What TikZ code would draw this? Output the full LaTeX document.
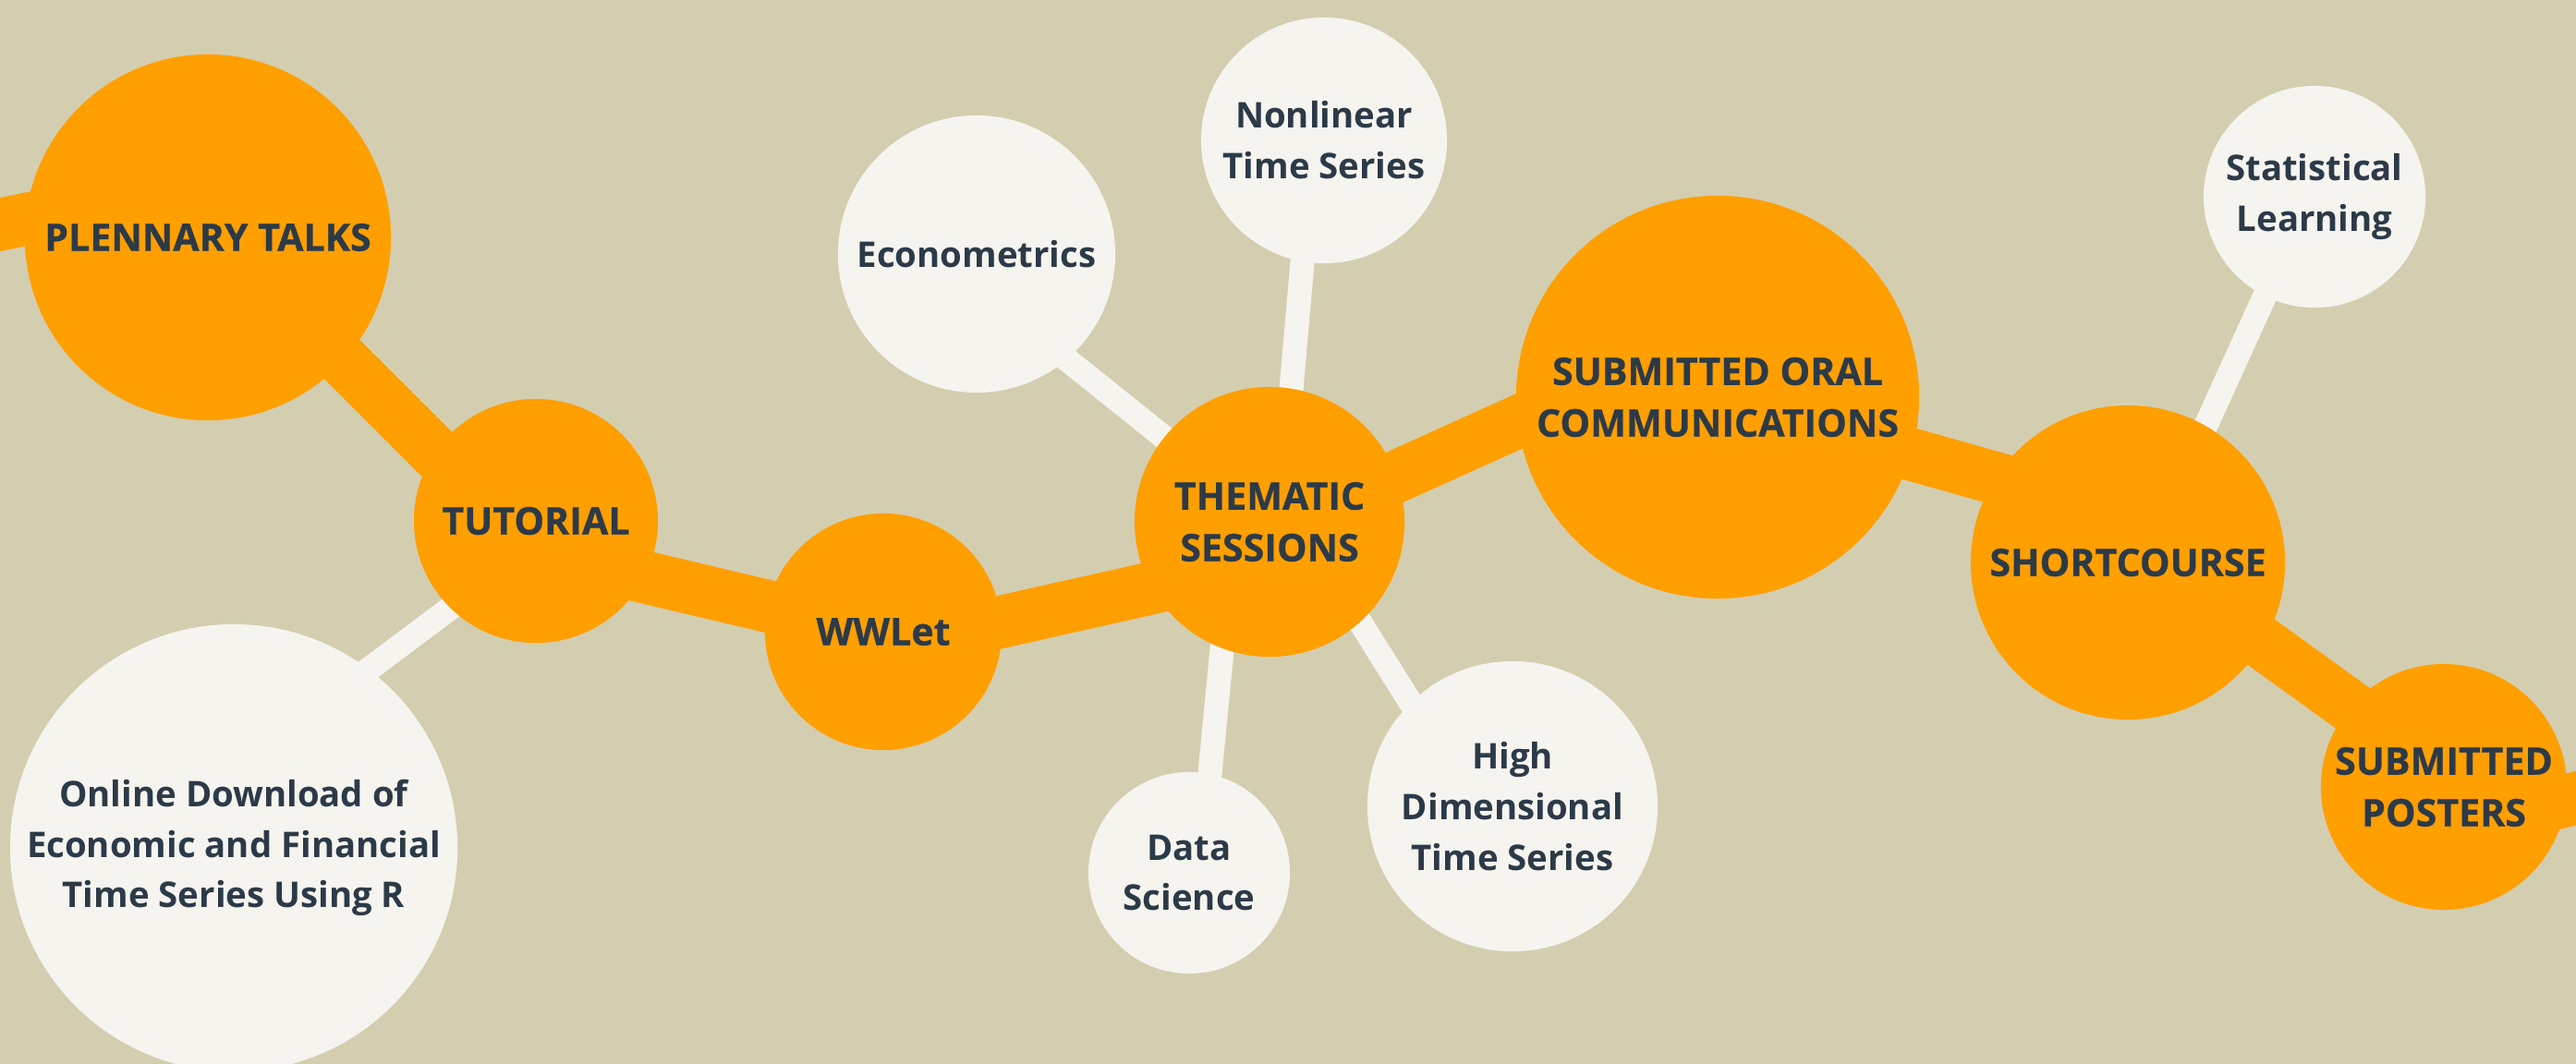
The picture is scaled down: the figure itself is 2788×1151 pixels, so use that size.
\documentclass[tikz,border=0pt]{standalone}
\usepackage{fontspec}
\setmainfont{Open Sans}
\newfontfamily\xbold{Open Sans}[BoldFeatures={FakeBold=0.6}]
\usetikzlibrary{calc}
\definecolor{bgc}{HTML}{D4CEB0}
\definecolor{orc}{HTML}{FF9F00}
\definecolor{whc}{HTML}{F5F4EF}
\definecolor{txc}{HTML}{2C3A48}
\pgfdeclarelayer{bg}
\pgfsetlayers{bg,main}
\tikzset{
  mainnode/.style={circle, fill=orc, inner sep=0pt, align=center, text=txc,
    font=\xbold\bfseries\fontsize{11.7}{15.9}\selectfont},
  subnode/.style={circle, fill=whc, inner sep=0pt, align=center, text=txc,
    font=\bfseries\fontsize{10.9}{15.6}\selectfont},
  mainlink/.style={draw=orc, line width=16.2pt},
  sublink/.style={draw=whc, line width=7.4pt},
}
\begin{document}
\begin{tikzpicture}[x=0.01cm, y=-0.01cm]
\useasboundingbox (0,0) rectangle (2788,1151);
% main nodes
\node[mainnode, minimum size=3.96cm] (P) at (225,257) {PLENNARY TALKS};
\node[mainnode, minimum size=2.64cm] (T) at (580,564) {TUTORIAL};
\node[mainnode, minimum size=2.56cm] (W) at (956,684) {WWLet};
\node[mainnode, minimum size=2.92cm] (TS) at (1374,565) {THEMATIC\\SESSIONS};
\node[mainnode, minimum size=4.36cm] (OR) at (1859,430) {SUBMITTED ORAL\\COMMUNICATIONS};
\node[mainnode, minimum size=3.40cm] (SC) at (2303,609) {SHORTCOURSE};
\node[mainnode, minimum size=2.66cm] (SP) at (2645,852) {SUBMITTED\\POSTERS};
% sub nodes
\node[subnode, minimum size=4.84cm] (OD) at (253,918) {Online Download of\\Economic and Financial\\Time Series Using R};
\node[subnode, minimum size=3.00cm] (EC) at (1057,275) {Econometrics};
\node[subnode, minimum size=2.66cm] (NL) at (1433,152) {Nonlinear\\Time Series};
\node[subnode, minimum size=2.18cm] (DS) at (1287,945) {Data\\Science};
\node[subnode, minimum size=3.14cm] (HD) at (1637,873) {High\\Dimensional\\Time Series};
\node[subnode, minimum size=2.40cm] (SL) at (2505,213) {Statistical\\Learning};
\coordinate (offL) at (-300,303);
\coordinate (offR) at (3100,786);
\begin{pgfonlayer}{bg}
\fill[bgc] (-400,-100) rectangle (3200,1300);
% white links
\draw[sublink] ($(T)+(0,25)$) -- ($(OD)+(0,-84)$);
\draw[sublink] (TS.center) -- ($(EC)+(0,36)$);
\draw[sublink] ($(TS)+(11,0)$) -- ($(NL)+(-12,0)$);
\draw[sublink] ($(TS)+(-38,0)$) -- ($(DS)+(12,0)$);
\draw[sublink] ($(TS)+(30,0)$) -- ($(HD)+(-40,0)$);
\draw[sublink] ($(SC)+(17,0)$) -- ($(SL)+(-5,0)$);
% orange links
\draw[mainlink] (offL) -- ($(P)+(0,-59)$);
\draw[mainlink] ($(P)+(0,-13)$) -- ($(T)+(0,35)$);
\draw[mainlink] ($(T)+(0,33)$) -- ($(W)+(0,2)$);
\draw[mainlink] ($(W)+(0,18)$) -- ($(TS)+(0,43)$);
\draw[mainlink] ($(TS)+(0,13)$) -- ($(OR)+(0,-71)$);
\draw[mainlink] ($(OR)+(0,3)$) -- ($(SC)+(0,-51)$);
\draw[mainlink] ($(SC)+(0,-18)$) -- ($(SP)+(0,-14)$);
\draw[mainlink] ($(SP)+(0,48)$) -- (offR);
\end{pgfonlayer}
\end{tikzpicture}
\end{document}
